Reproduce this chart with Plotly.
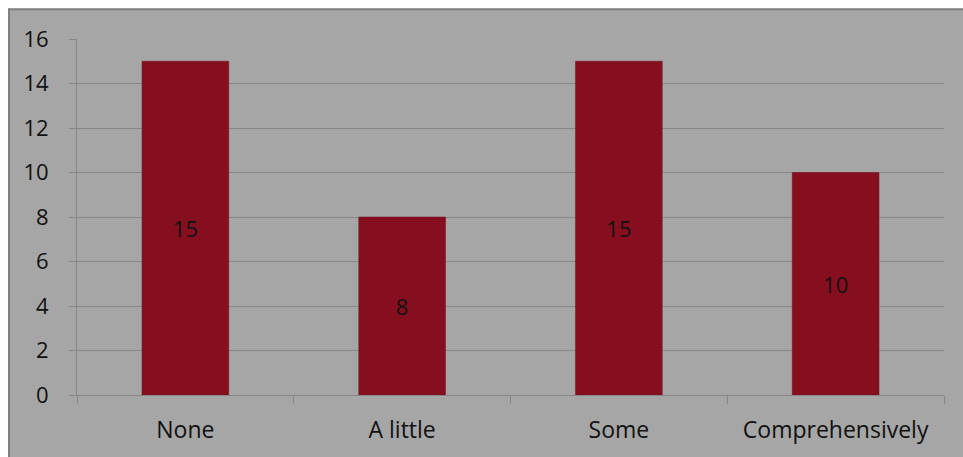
import plotly.graph_objects as go

categories = ["None", "A little", "Some", "Comprehensively"]
values = [15, 8, 15, 10]

W, H = 963, 457
L, R, T, B = 77, W - 944, 39, H - 397
pw, ph = W - L - R, H - T - B

fig = go.Figure(go.Bar(
    x=categories, y=values, width=0.4,
    marker=dict(color="#860f1f", line=dict(color="#6e0c19", width=0.5)),
    text=[str(v) for v in values], textposition="inside",
    insidetextanchor="middle", textangle=0,
    textfont=dict(color="#111111", size=22, family="Open Sans"),
    cliponaxis=False,
))

fig.add_shape(type="rect", xref="paper", yref="paper", layer="below",
              x0=(9 - L) / pw, x1=(W + 20 - L) / pw,
              y0=-(H + 20 - T - ph) / ph, y1=1 + (T - 9) / ph,
              fillcolor="#a6a6a6", line=dict(color="#7f7f7f", width=2))

fig.update_layout(
    width=W, height=H, margin=dict(l=L, r=R, t=T, b=B),
    paper_bgcolor="white", plot_bgcolor="rgba(0,0,0,0)",
    showlegend=False,
    font=dict(family="Open Sans", size=23, color="#111111"),
)
fig.update_yaxes(range=[0, 16], dtick=2, showgrid=True, gridcolor="#878787",
                 gridwidth=1, showline=True, linecolor="#878787", linewidth=1,
                 ticks="outside", ticklen=7, tickcolor="#878787",
                 ticklabelstandoff=16, zeroline=False,
                 tickfont=dict(size=22))
fig.update_xaxes(showline=True, linecolor="#878787", linewidth=1,
                 ticks="outside", ticklen=8, tickcolor="#878787",
                 tickson="boundaries", ticklabelstandoff=14,
                 tickfont=dict(size=23))

fig.write_html("out.html", config={"displayModeBar": False},
               post_script="document.body.style.margin='0';document.body.style.overflow='hidden';")
